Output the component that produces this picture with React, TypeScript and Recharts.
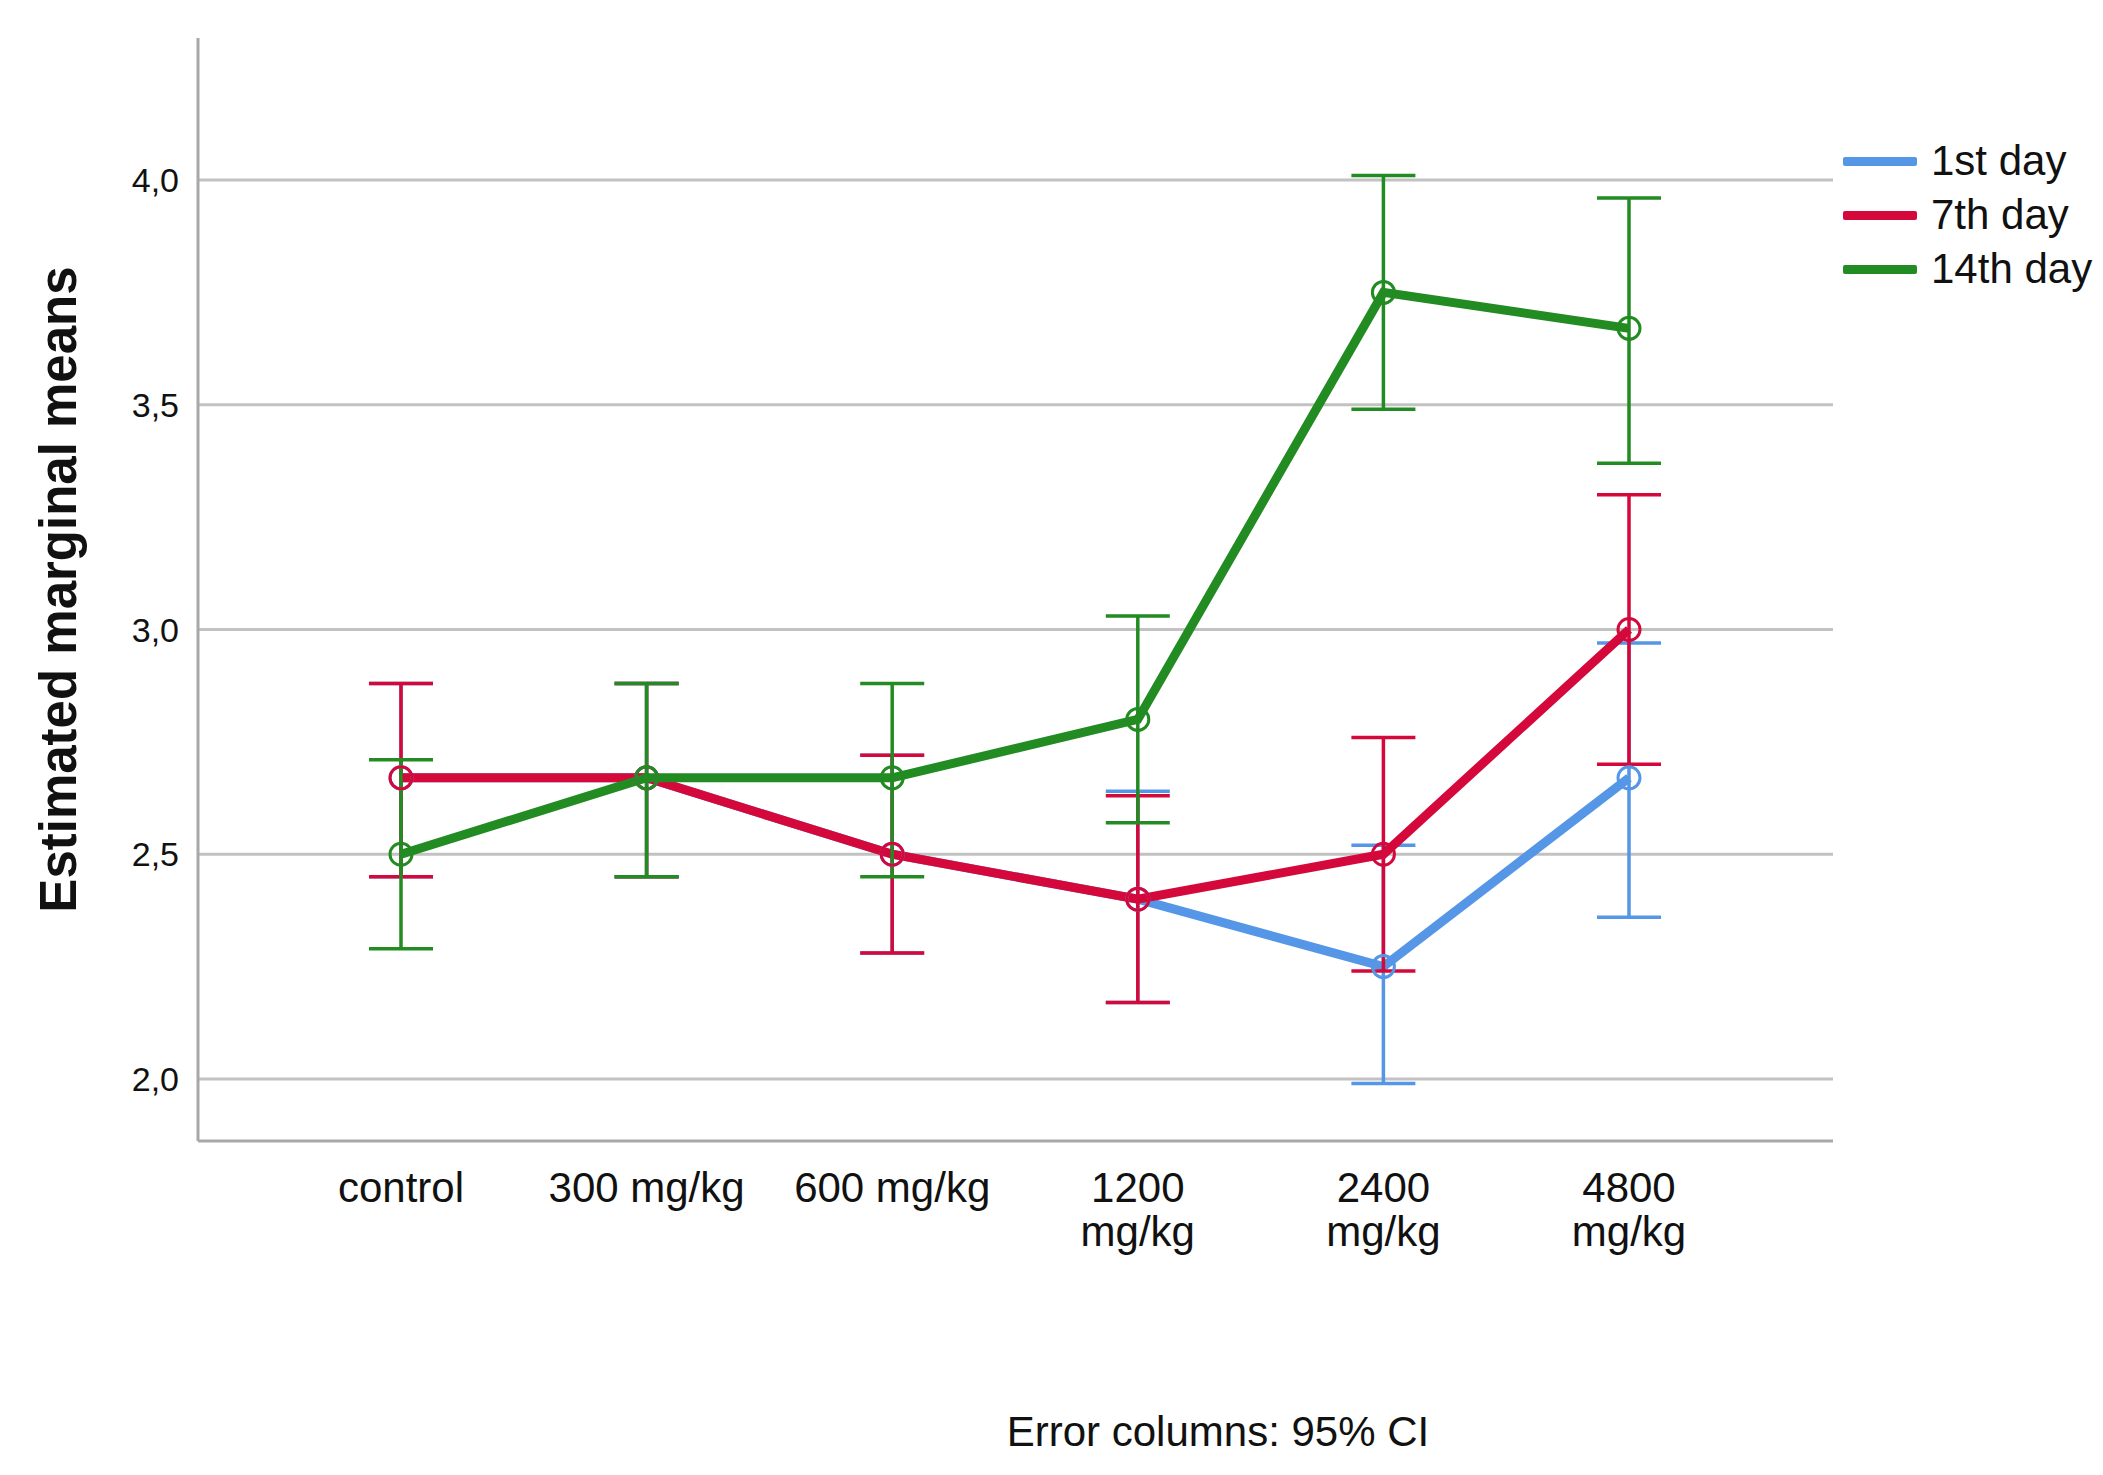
import React from "react";
import {
  LineChart,
  Line,
  XAxis,
  YAxis,
  CartesianGrid,
  ErrorBar,
} from "recharts";

const categories = ["control", "300 mg/kg", "600 mg/kg", "1200 mg/kg", "2400 mg/kg", "4800 mg/kg"];
// how each tick label wraps
const tickLines = [["control"], ["300 mg/kg"], ["600 mg/kg"], ["1200", "mg/kg"], ["2400", "mg/kg"], ["4800", "mg/kg"]];

const day1Mean = [2.67, 2.67, 2.5, 2.4, 2.25, 2.67];
const day1Low = [2.45, 2.45, 2.28, 2.17, 1.99, 2.36];
const day1High = [2.88, 2.88, 2.72, 2.64, 2.52, 2.97];

const day7Mean = [2.67, 2.67, 2.5, 2.4, 2.5, 3.0];
const day7Low = [2.45, 2.45, 2.28, 2.17, 2.24, 2.7];
const day7High = [2.88, 2.88, 2.72, 2.63, 2.76, 3.3];

const day14Mean = [2.5, 2.67, 2.67, 2.8, 3.75, 3.67];
const day14Low = [2.29, 2.45, 2.45, 2.57, 3.49, 3.37];
const day14High = [2.71, 2.88, 2.88, 3.03, 4.01, 3.96];

const yTicks = [2.0, 2.5, 3.0, 3.5, 4.0];

const BLUE = "#5596e6";
const RED = "#d4083a";
const GREEN = "#228b22";
const FONT = "'Liberation Sans', Arial, sans-serif";

const series = [
  { key: "d1", name: "1st day", color: BLUE },
  { key: "d7", name: "7th day", color: RED },
  { key: "d14", name: "14th day", color: GREEN },
];

const data = categories.map((c, i) => ({
  cat: c,
  d1: day1Mean[i],
  d1Err: [day1Mean[i] - day1Low[i], day1High[i] - day1Mean[i]],
  d7: day7Mean[i],
  d7Err: [day7Mean[i] - day7Low[i], day7High[i] - day7Mean[i]],
  d14: day14Mean[i],
  d14Err: [day14Mean[i] - day14Low[i], day14High[i] - day14Mean[i]],
}));

function XTick(props: any) {
  const { x, y, payload } = props;
  const idx = categories.indexOf(payload.value);
  const lines = tickLines[idx] || [payload.value];
  return (
    <text x={x} y={y + 61} textAnchor="middle" fontSize={42} fontFamily={FONT} fill="#111">
      {lines.map((l, j) => (
        <tspan key={j} x={x} dy={j === 0 ? 0 : 44}>
          {l}
        </tspan>
      ))}
    </text>
  );
}

export default function App() {
  return (
    <div style={{ position: "absolute", left: 0, top: 0, width: 2103, height: 1475, background: "#fff" }}>
      <LineChart
        width={2103}
        height={1475}
        data={data}
        margin={{ top: 38, right: 270, bottom: 0, left: 0 }}
      >
        <CartesianGrid vertical={false} stroke="#c2c2c2" strokeWidth={3} syncWithTicks />
        <XAxis
          dataKey="cat"
          height={334}
          padding={{ left: 203, right: 204 }}
          axisLine={{ stroke: "#a8a8a8", strokeWidth: 3 }}
          tickLine={false}
          tickSize={0}
          tickMargin={0}
          interval={0}
          tick={<XTick />}
          label={{
            content: (p: any) => {
              const vb = p.viewBox;
              return (
                <text x={1218} y={vb.y + 305} textAnchor="middle" fontSize={42} fontFamily={FONT} fill="#111">
                  Error columns: 95% CI
                </text>
              );
            },
          }}
        />
        <YAxis
          width={198}
          domain={[1.862, 4.316]}
          ticks={yTicks}
          allowDataOverflow
          axisLine={{ stroke: "#a8a8a8", strokeWidth: 3 }}
          tickLine={false}
          tickSize={0}
          tickMargin={19}
          tick={{ fontSize: 34, fill: "#111", fontFamily: FONT }}
          tickFormatter={(v: number) => v.toFixed(1).replace(".", ",")}
          label={{
            content: (p: any) => {
              const vb = p.viewBox;
              const cy = vb.y + vb.height / 2;
              return (
                <text
                  x={58}
                  y={cy}
                  transform={`rotate(-90, 58, ${cy})`}
                  textAnchor="middle"
                  dominantBaseline="central"
                  fontSize={51}
                  fontWeight="bold"
                  fontFamily={FONT}
                  fill="#111"
                >
                  Estimated marginal means
                </text>
              );
            },
          }}
        />
        {series.map((s) => (
          <Line
            key={s.key}
            dataKey={s.key}
            name={s.name}
            stroke={s.color}
            strokeWidth={9}
            dot={{ r: 11, stroke: s.color, strokeWidth: 3, fill: "none" }}
            activeDot={false}
            isAnimationActive={false}
          >
            <ErrorBar dataKey={s.key + "Err"} direction="y" width={32} stroke={s.color} strokeWidth={3.5} />
          </Line>
        ))}
      </LineChart>
      <div style={{ position: "absolute", left: 1843, top: 134, fontFamily: FONT }}>
        {series.map((s) => (
          <div key={s.key} style={{ display: "flex", alignItems: "center", height: 54 }}>
            <span style={{ display: "inline-block", width: 74, height: 9, background: s.color, borderRadius: 2 }} />
            <span style={{ marginLeft: 14, fontSize: 42, lineHeight: 1, color: "#111", whiteSpace: "nowrap" }}>{s.name}</span>
          </div>
        ))}
      </div>
    </div>
  );
}
